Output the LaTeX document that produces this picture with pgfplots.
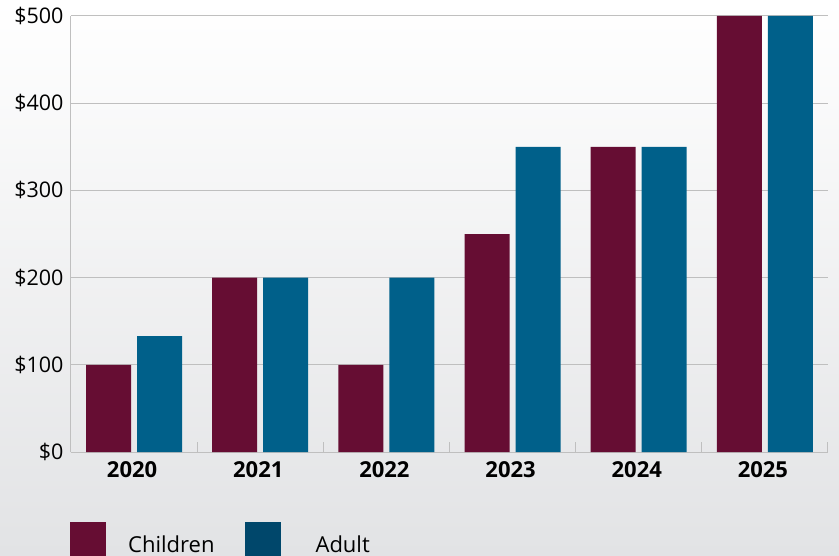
\documentclass[border=0pt]{standalone}
\usepackage{pgfplots}
\pgfplotsset{compat=1.18}
\usepackage{fontspec}
\setmainfont{Open Sans}
\definecolor{child}{HTML}{660D33}
\definecolor{adult}{HTML}{00608A}
\definecolor{adultleg}{HTML}{00476B}
\definecolor{gridc}{HTML}{BFBFBF}
\definecolor{bgbot}{HTML}{E2E3E5}
\begin{document}
\begin{tikzpicture}
\path[use as bounding box] (0,0) rectangle (839pt,555pt);
\clip (0,0) rectangle (839pt,555pt);
\shade[top color=white, bottom color=bgbot] (0,0) rectangle (839pt,555pt);
\begin{axis}[
  at={(71pt,103pt)}, anchor=south west,
  scale only axis, width=757pt, height=436pt,
  xmin=-0.5, xmax=5.5, ymin=0, ymax=500,
  axis lines=left, axis line style={-, gridc, line width=1pt},
  ybar=6pt, bar width=45pt,
  xtick={0,1,2,3,4,5},
  xticklabels={\textbf{2020},\textbf{2021},\textbf{2022},\textbf{2023},\textbf{2024},\textbf{2025}},
  major x tick style={draw=none},
  minor xtick={0.5,1.5,2.5,3.5,4.5,5.5},
  minor tick length=10pt,
  minor x tick style={gridc, line width=1pt},
  tick align=inside,
  ytick={0,100,200,300,400,500},
  yticklabels={\$0,\$100,\$200,\$300,\$400,\$500},
  major y tick style={draw=none},
  ymajorgrids, grid style={gridc, line width=1pt},
  xticklabel style={font=\fontsize{22}{24}\selectfont, yshift=-6pt, xshift=-2pt},
  yticklabel style={font=\fontsize{21.5}{24}\selectfont, xshift=-4pt},
  legend columns=2,
  legend style={at={(rel axis cs:0,0)}, anchor=north west, xshift=-4pt, yshift=-68pt,
    draw=none, fill=none, font=\fontsize{22}{24}\selectfont,
    /tikz/every even column/.append style={column sep=28pt}},
  legend image code/.code={\fill[#1,draw=none] (0pt,-12pt) rectangle (36pt,23pt);},
  legend cell align=left,
]
\addplot[fill=child, draw=none] coordinates {(0,100) (1,200) (2,100) (3,250) (4,350) (5,500)};
\addlegendentry{\hspace{20pt}Children}
\addplot[fill=adult, draw=none,
  legend image code/.code={\fill[adultleg,draw=none] (0pt,-12pt) rectangle (36pt,23pt);}]
  coordinates {(0,133) (1,200) (2,200) (3,350) (4,350) (5,500)};
\addlegendentry{\hspace{33pt}Adult}
\end{axis}
\end{tikzpicture}
\end{document}
